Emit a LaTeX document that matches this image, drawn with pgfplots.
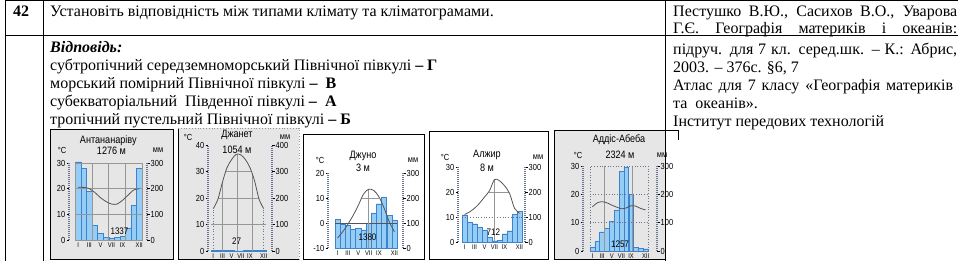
\documentclass[border=0pt]{standalone}
\usepackage{fontspec}
\setmainfont{Liberation Serif}
\newfontfamily\cf[FakeStretch=0.85]{Liberation Sans}
\usepackage{pgfplots}
\pgfplotsset{compat=1.18}
\usepackage{pgfplotstable}

\definecolor{barfill}{RGB}{150,205,245}
\definecolor{bardraw}{RGB}{60,130,205}
\definecolor{curvec}{RGB}{85,85,85}
\definecolor{gridc}{RGB}{150,150,150}
\definecolor{rulerc}{RGB}{105,115,145}
\definecolor{stip}{RGB}{230,230,230}

% month, temperature (C), precipitation (mm)
\pgfplotstableread{
m t p
1 20.5 305
2 20.5 280
3 20 190
4 18.5 58
5 16.5 25
6 15 10
7 14 8
8 14 10
9 15.5 14
10 17.5 45
11 19.5 136
12 20 280
}\tabA
\pgfplotstableread{
m t p
1 16 3
2 19.5 2
3 26 2
4 31.5 3
5 34.5 3
6 36.5 1
7 36.3 1
8 34.5 3
9 31.5 2
10 26.5 2
11 19.5 3
12 16 2
}\tabB
\pgfplotstableread{
m t p
1 -6 115
2 -3.5 97
3 -0.5 90
4 3 75
5 7 80
6 11.5 72
7 13.5 100
8 13 140
9 10.5 177
10 6 204
11 0.5 130
12 -3.5 112
}\tabC
\pgfplotstableread{
m t p
1 11 109
2 12 80
3 13.5 73
4 15.5 60
5 18 47
6 20.5 20
7 25 5
8 24.5 7
9 22.5 33
10 19.5 45
11 13.5 110
12 11.5 122
}\tabD
\pgfplotstableread{
m t p
1 15.6 12
2 17 33
3 17.4 68
4 17 80
5 16.2 104
6 15.5 145
7 14.9 280
8 15.2 295
9 16 200
10 15.8 14
11 15 10
12 14.5 8
}\tabE

\tikzset{ruler/.style={draw=rulerc, line width=2.6pt, dash pattern=on 1pt off 1pt},
  gr/.style={gridc, line width=0.9pt}, dgr/.style={rulerc, line width=0.7pt, dotted}}
\pgfplotsset{
  tempax/.style={scale only axis, clip=false, anchor=south west,
    axis y line*=left, axis x line*=bottom,
    x axis line style={draw=none}, xtick style={draw=none},
    xtick={1,3,5,7,9,12}, xticklabels={I,III,V,VII,IX,XII},
    xticklabel style={font=\cf\fontsize{6.8}{7}\selectfont, inner sep=0.5pt},
    y axis line style={ruler},
    ytick style={black, line width=0.5pt}, tick align=outside, major tick length=2.5pt,
    yticklabel style={font=\cf\fontsize{8.8}{9}\selectfont, inner sep=1pt},
  },
  precax/.style={scale only axis, clip=false, anchor=south west,
    axis y line*=right, axis x line=none, ybar, bar shift=0pt,
    y axis line style={ruler},
    ytick style={black, line width=0.5pt}, tick align=outside, major tick length=2.5pt,
    yticklabel style={font=\cf\fontsize{8.8}{9}\selectfont, inner sep=1pt},
  },
  bars/.style={fill=barfill, draw=bardraw, line width=0.4pt},
  tcurve/.style={curvec, line width=0.8pt, smooth, no markers},
}

\newcommand{\ttl}{\cf\fontsize{10.7}{11}\selectfont}
\newcommand{\sml}{\cf\fontsize{8.8}{9}\selectfont}
\newcommand{\ann}{\cf\fontsize{9.5}{10}\selectfont}

\begin{document}
\begin{tikzpicture}
\useasboundingbox (0pt,0pt) rectangle (958pt,-261pt);

% ---- table lines
\draw[line width=0.8pt] (5pt,-0.5pt) -- (958pt,-0.5pt);
\draw[line width=1.3pt] (5pt,-35.5pt) -- (958pt,-35.5pt);
\draw[line width=0.8pt] (5pt,0pt) -- (5pt,-261pt);
\draw[line width=0.8pt] (43pt,0pt) -- (43pt,-261pt);
\draw[line width=0.8pt] (665pt,0pt) -- (665pt,-261pt);

% ---- texts
\begin{scope}[every node/.style={anchor=base west, inner sep=0pt, font=\fontsize{16}{18}\selectfont}]
\node at (13pt,-17pt) {\textbf{42}};
\node at (50pt,-17pt) {Установіть відповідність між типами клімату та кліматограмами.};
\node at (50pt,-53pt) {\textbf{\textit{Відповідь:}}};
\node at (50pt,-71pt) {субтропічний середземноморський Північної півкулі \textbf{– Г}};
\node at (50pt,-89pt) {морський помірний Північної півкулі \textbf{–}\ \ \textbf{В}};
\node at (50pt,-107pt) {субекваторіальний\ \ Південної півкулі \textbf{–}\ \ \textbf{А}};
\node at (50pt,-125pt) {тропічний пустельний Північної півкулі \textbf{– Б}};
\node at (673pt,-16.5pt) {\makebox[284pt][s]{Пестушко В.Ю., Сасихов В.О., Уварова}};
\node at (673pt,-34pt) {\makebox[284pt][s]{Г.Є. Географія материків і океанів:}};
\node at (673pt,-55pt) {\makebox[284pt][s]{підруч. для 7 кл. серед.шк. – К.: Абрис,}};
\node at (673pt,-73pt) {2003. – 376с. §6, 7};
\node at (673pt,-91pt) {\makebox[280pt][s]{Атлас для 7 класу «Географія материків}};
\node at (673pt,-109pt) {та\ \ океанів».};
\node at (673pt,-127pt) {Інститут передових технологій};
\end{scope}

% ---- picture frames
\fill[stip] (50pt,-129pt) rectangle (173pt,-259.5pt);
\fill[stip] (178pt,-128pt) rectangle (299pt,-259.5pt);
\fill[stip] (554pt,-130pt) rectangle (665pt,-259.5pt);
\draw[line width=0.8pt] (50pt,-129pt) rectangle (173pt,-259.5pt);
\draw[line width=0.8pt] (178pt,-259.5pt) -- (178pt,-128pt);
\draw[gridc, dotted, line width=0.8pt] (178pt,-128pt) -- (299pt,-128pt) -- (299pt,-259.5pt);
\draw[line width=0.8pt] (178pt,-259.5pt) -- (299pt,-259.5pt);
\draw[line width=0.8pt] (303pt,-134pt) rectangle (424pt,-259.5pt);
\draw[line width=0.8pt] (429pt,-131pt) rectangle (548pt,-259.5pt);
\draw[line width=0.8pt] (554pt,-130pt) rectangle (665pt,-259.5pt);
\draw[line width=0.8pt] (665pt,-130pt) -- (678pt,-130pt) -- (678pt,-140pt);

% ================= 1 Antananarivo
\begin{axis}[precax, at={(69pt,-240pt)}, width=78pt, height=77pt,
  xmin=-0.67, xmax=13.4, ymin=0, ymax=300,
  ytick={0,100,200,300}, yticklabels={0,100,200,300}, bar width=5.5pt]
\addplot[bars] table[x=m,y=p]{\tabA};
\end{axis}
\begin{axis}[tempax, at={(69pt,-240pt)}, width=78pt, height=77pt,
  xmin=-0.67, xmax=13.4, ymin=0, ymax=30,
  ytick={0,10,20,30}, yticklabels={0,10,20,30}]
\draw[gr] (0.5,0) rectangle (12.5,30);
\draw[gr] (0.5,10) -- (12.5,10) (0.5,20) -- (12.5,20);
\draw[gr] (3.5,0) -- (3.5,30) (6.5,0) -- (6.5,30) (9.5,0) -- (9.5,30);
\addplot[tcurve] table[x=m,y=t]{\tabA};
\end{axis}
\node[font=\ttl] at (108.3pt,-140.5pt) {Антананаріву};
\node[font=\ttl] at (111.5pt,-151pt) {1276 м};
\node[font=\sml] at (62pt,-150pt) {°C};
\node[font=\sml] at (158pt,-150pt) {мм};
\node[font=\ann] at (119.5pt,-231pt) {1337};

% ================= 2 Djanet
\begin{axis}[precax, at={(208pt,-251pt)}, width=64pt, height=106pt,
  xmin=-0.155, xmax=13.81, ymin=0, ymax=400,
  ytick={0,100,200,300,400}, yticklabels={0,100,200,300,400}, bar width=4.5pt]
\addplot[bars] table[x=m,y=p]{\tabB};
\end{axis}
\begin{axis}[tempax, at={(208pt,-251pt)}, width=64pt, height=106pt,
  xmin=-0.155, xmax=13.81, ymin=0, ymax=40,
  ytick={0,10,20,30,40}, yticklabels={0,10,20,30,40}]
\draw[gr] (3.73,30) -- (9.3,30) (2.08,20) -- (10.93,20) (0.6,10) -- (12.4,10);
\draw[gr] (3,0) -- (3,26) (6.3,0) -- (6.3,36.4) (9.5,0) -- (9.5,29);
\draw[dgr] (1,0) -- (1,16) (12,0) -- (12,16);
\addplot[tcurve] table[x=m,y=t]{\tabB};
\end{axis}
\node[font=\sml] at (188pt,-137pt) {°C};
\node[font=\ttl] at (237pt,-135pt) {Джанет};
\node[font=\ttl] at (237pt,-150pt) {1054 м};
\node[font=\sml] at (285pt,-137pt) {мм};
\node[font=\ann] at (236.7pt,-241.3pt) {27};

% ================= 3 Juneau
\begin{axis}[precax, at={(328pt,-248pt)}, width=75pt, height=75pt,
  xmin=-0.85, xmax=13.66, ymin=0, ymax=300,
  ytick={0,100,200,300}, yticklabels={0,100,200,300}, bar width=5.1pt]
\addplot[bars] table[x=m,y=p]{\tabC};
\end{axis}
\begin{axis}[tempax, at={(328pt,-248pt)}, width=75pt, height=75pt,
  xmin=-0.85, xmax=13.66, ymin=-10, ymax=20,
  ytick={-10,0,10,20}, yticklabels={-10,0,10,20}]
\draw[gr] (5.67,10) -- (9.11,10);
\draw[curvec, line width=0.8pt] (0.5,0) -- (12.5,0);
\draw[gr] (7,-10) -- (7,13.5);
\addplot[tcurve] table[x=m,y=t]{\tabC};
\end{axis}
\node[font=\ttl] at (363pt,-156pt) {Джуно};
\node[font=\ttl] at (363pt,-168pt) {3 м};
\node[font=\sml] at (320pt,-160pt) {°C};
\node[font=\sml] at (413pt,-160pt) {мм};
\node[font=\ann] at (367.5pt,-237pt) {1380};

% ================= 4 Algiers
\begin{axis}[precax, at={(458pt,-242pt)}, width=67pt, height=75pt,
  xmin=-0.3, xmax=13.1, ymin=0, ymax=300,
  ytick={0,100,200,300}, yticklabels={0,100,200,300}, bar width=4.9pt]
\addplot[bars] table[x=m,y=p]{\tabD};
\end{axis}
\begin{axis}[tempax, at={(458pt,-242pt)}, width=67pt, height=75pt,
  xmin=-0.3, xmax=13.1, ymin=0, ymax=30,
  ytick={0,10,20,30}, yticklabels={0,10,20,30}]
\draw[gr] (5.8,20) -- (9.83,20);
\draw[dgr] (0.5,10) -- (12.5,10);
\draw[gr] (7,0) -- (7,25);
\addplot[tcurve] table[x=m,y=t]{\tabD};
\end{axis}
\node[font=\sml] at (445pt,-157pt) {°C};
\node[font=\ttl] at (487pt,-155pt) {Алжир};
\node[font=\ttl] at (487pt,-168pt) {8 м};
\node[font=\sml] at (538pt,-157pt) {мм};
\node[font=\ann] at (493.3pt,-232.3pt) {712};

% ================= 5 Addis Ababa
\begin{axis}[precax, at={(583pt,-251pt)}, width=74pt, height=85pt,
  xmin=-0.95, xmax=14.36, ymin=0, ymax=300,
  ytick={0,100,200,300}, yticklabels={0,100,200,300}, bar width=4.8pt]
\addplot[bars] table[x=m,y=p]{\tabE};
\end{axis}
\begin{axis}[tempax, at={(583pt,-251pt)}, width=74pt, height=85pt,
  xmin=-0.95, xmax=14.36, ymin=0, ymax=30,
  ytick={0,10,20,30}, yticklabels={0,10,20,30}]
\draw[gr] (3.5,0) -- (3.5,30) (9.3,0) -- (9.3,30);
\draw[dgr] (0.5,0) rectangle (12.5,30);
\draw[dgr] (0.5,10) -- (12.5,10) (0.5,20) -- (12.5,20);
\addplot[tcurve] table[x=m,y=t]{\tabE};
\end{axis}
\node[font=\ttl] at (619pt,-140pt) {Аддіс-Абеба};
\node[font=\ttl] at (620pt,-155pt) {2324 м};
\node[font=\sml] at (578pt,-155pt) {°C};
\node[font=\sml] at (662pt,-155pt) {мм};
\node[font=\ann] at (620pt,-243.8pt) {1257};

\end{tikzpicture}
\end{document}
